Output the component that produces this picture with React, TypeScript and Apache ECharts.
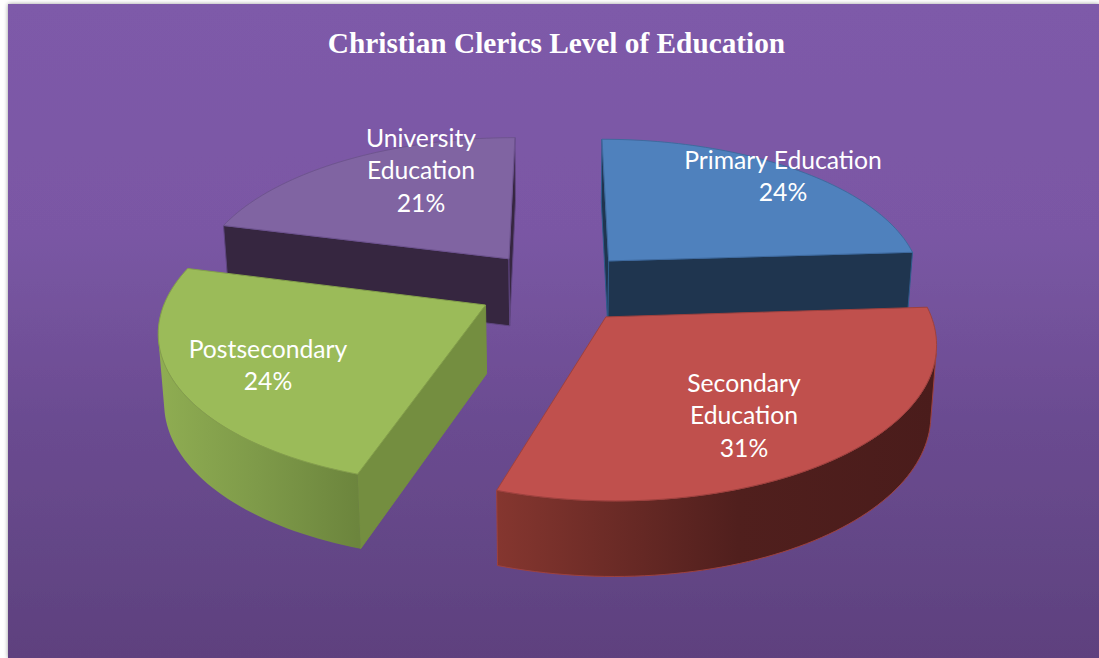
import React, { useEffect, useRef } from "react";
import * as echarts from "echarts";

const titleText = "Christian Clerics Level of Education";
const categories = ["Primary Education", "Secondary Education", "Postsecondary", "University Education"];
const percents = [24, 31, 24, 21];
const labelLines = [
  ["Primary Education", "24%"],
  ["Secondary", "Education", "31%"],
  ["Postsecondary", "24%"],
  ["University", "Education", "21%"],
];
const drawOrder = [3, 0, 2, 1];

// layout
const W = 1099, H = 658;
const CAM = { cx: 556, cy: 287, f: 6.74, vertical: 990, horizontal: 316, depth: 68, depthGrow: 35, bottomShrink: 0.985, explode: 0.25, rotation: 0 };
const labelCenters = [[783, 175.5], [744, 414.5], [268, 364.5], [421, 169.5]];
const LINE_H = 32.5;
const sliceStyles = [
  { top: "#4F81BD", edge: "#3F6A9E", side: "#1F354F", sideEdge: "#2F5C8C", wall: [[0, "#1F354F"], [1, "#1F354F"]] },
  { top: "#C0504D", edge: "#9E413E", side: "#4C1D1B", sideEdge: "#8E3B38", wall: [[0, "#85362F"], [0.55, "#501F1D"], [1, "#4A1C1B"]] },
  { top: "#9BBB59", edge: "#84A04A", side: "#748E40", sideEdge: "#748E40", wall: [[0, "#8FAD52"], [0.5, "#7E9A49"], [1, "#6C853D"]] },
  { top: "#8064A2", edge: "#6E548F", side: "#362640", sideEdge: "#5F4680", wall: [[0, "#362640"], [1, "#362640"]] },
];

function project(X: number, Y: number, low: boolean): number[] {
  const s = CAM.f / (CAM.f + Y);
  const sx = CAM.cx + X * CAM.horizontal * s * (low ? CAM.bottomShrink : 1);
  const sy = CAM.cy + CAM.vertical * (s - 1) + (low ? CAM.depth + CAM.depthGrow * (s - 1) : 0);
  return [sx, sy];
}

function area(pts: number[][]): number {
  let a = 0;
  for (let i = 0; i < pts.length; i++) {
    const p = pts[i], q = pts[(i + 1) % pts.length];
    a += p[0] * q[1] - q[0] * p[1];
  }
  return a;
}

function renderSlice(params: any, api: any) {
  const idx = drawOrder[params.dataIndex];
  const total = percents.reduce((a, b) => a + b, 0);
  const before = percents.slice(0, idx).reduce((a, b) => a + b, 0);
  const t0 = (before / total) * Math.PI * 2 + CAM.rotation;
  const t1 = t0 + (api.value(0) / total) * Math.PI * 2;
  const mid = (t0 + t1) / 2;
  const ox = Math.sin(mid) * CAM.explode, oy = Math.cos(mid) * CAM.explode;
  const st = sliceStyles[idx];
  const steps = Math.max(8, Math.round(((t1 - t0) * 180) / Math.PI / 1.5));
  const world: number[][] = [];
  for (let i = 0; i <= steps; i++) {
    const t = t0 + ((t1 - t0) * i) / steps;
    world.push([ox + Math.sin(t), oy + Math.cos(t)]);
  }
  const apexT = project(ox, oy, false), apexB = project(ox, oy, true);
  const topArc = world.map((w) => project(w[0], w[1], false));
  const lowArc = world.map((w) => project(w[0], w[1], true));
  const children: any[] = [];

  const flat = (a: number[], b: number[], c: number[], d: number[]) => [a, b, c, d];
  const sides = [
    flat(apexT, topArc[0], lowArc[0], apexB),
    flat(topArc[steps], apexT, apexB, lowArc[steps]),
  ];
  for (const q of sides) {
    if (area(q) < 0) {
      children.push({
        type: "polygon",
        shape: { points: q },
        style: { fill: st.side, stroke: st.sideEdge, lineWidth: 1 },
      });
    }
  }
  // outer wall: consecutive visible facets
  let run: number[] = [];
  for (let i = 0; i < steps; i++) {
    const q = flat(topArc[i], topArc[i + 1], lowArc[i + 1], lowArc[i]);
    if (area(q) < 0) {
      if (!run.length) run.push(i);
      run.push(i + 1);
    }
  }
  if (run.length) {
    const tops = run.map((i) => topArc[i]);
    const lows = run.map((i) => lowArc[i]).reverse();
    const xs = tops.map((p) => p[0]);
    const minX = Math.min(...xs), maxX = Math.max(...xs);
    const stops = st.wall.map((s: any) => ({ offset: s[0], color: s[1] }));
    children.push({
      type: "polygon",
      shape: { points: tops.concat(lows) },
      style: {
        fill: new echarts.graphic.LinearGradient(minX, 0, maxX, 0, stops, true),
        stroke: st.edge,
        lineWidth: idx === 1 ? 1 : 0,
      },
    });
  }
  children.push({
    type: "polygon",
    shape: { points: [apexT].concat(topArc) },
    style: { fill: st.top, stroke: st.edge, lineWidth: 1 },
  });
  const lines = labelLines[idx];
  const c = labelCenters[idx];
  lines.forEach((line, i) => {
    children.push({
      type: "text",
      x: c[0],
      y: c[1] + (i - (lines.length - 1) / 2) * LINE_H,
      style: {
        text: line,
        fill: "#FFFFFF",
        fontFamily: "Lato",
        fontSize: 24.7,
        align: "center",
        verticalAlign: "middle",
      },
    });
  });
  return { type: "group", children };
}

export default function App() {
  const ref = useRef<HTMLDivElement>(null);
  useEffect(() => {
    document.body.style.margin = "0";
    document.body.style.background = "#FFFFFF";
    const chart = echarts.init(ref.current!, null, { renderer: "svg" });
    chart.setOption({
      animation: false,
      backgroundColor: "#FFFFFF",
      title: {
        text: titleText,
        left: 551.5,
        top: 23,
        textAlign: "center",
        textStyle: { color: "#FFFFFF", fontFamily: "Liberation Serif", fontWeight: "bold", fontSize: 29.3 },
      },
      graphic: [
        {
          type: "rect",
          z: -10,
          silent: true,
          shape: { x: 8, y: 4, width: W - 8, height: H - 4 },
          style: {
            fill: new echarts.graphic.LinearGradient(0, 0, 0, 1, [
              { offset: 0, color: "#7E5AA9" },
              { offset: 0.35, color: "#7A57A4" },
              { offset: 0.65, color: "#6A4B90" },
              { offset: 1, color: "#5E417E" },
            ]),
            shadowBlur: 4,
            shadowColor: "rgba(0,0,0,0.4)",
          },
        },
      ],
      series: [
        {
          type: "custom",
          coordinateSystem: "none",
          renderItem: renderSlice,
          silent: true,
          data: drawOrder.map((i) => ({ name: categories[i], value: [percents[i]] })),
        },
      ],
    });
    return () => chart.dispose();
  }, []);
  return <div ref={ref} style={{ width: W, height: H }} />;
}
